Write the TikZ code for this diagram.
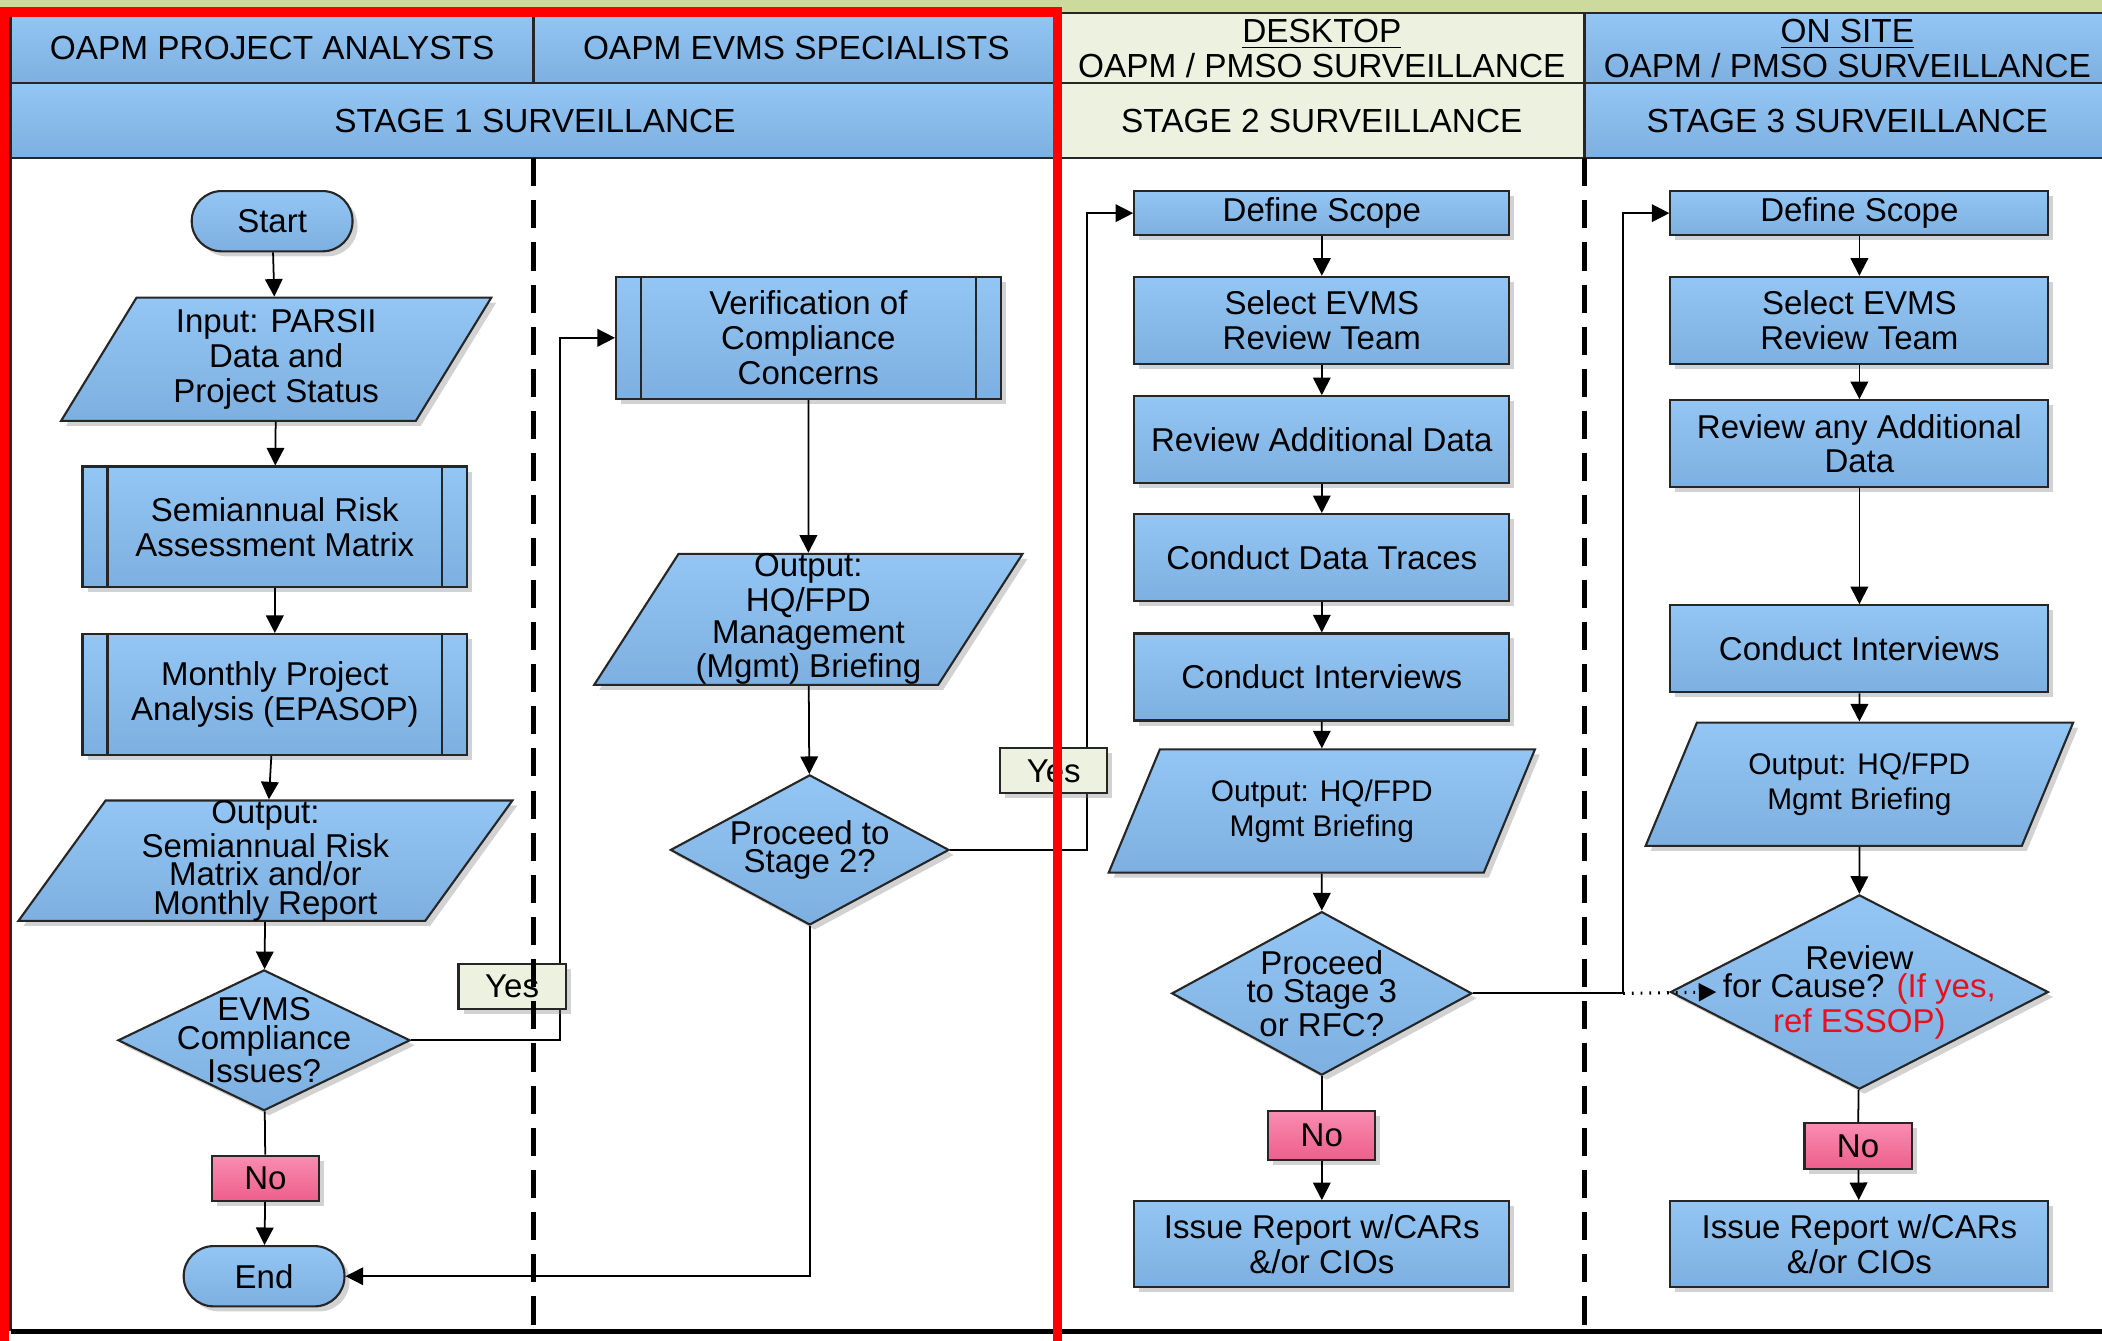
\documentclass[tikz,border=0pt]{standalone}
\usepackage{fontspec}
\setmainfont{Liberation Sans}
\usetikzlibrary{shapes.geometric,arrows.meta,shadows,calc}

\definecolor{boxtop}{HTML}{93C6F4}
\definecolor{boxbot}{HTML}{7DAFE0}
\definecolor{boxline}{HTML}{262626}
\definecolor{cream}{HTML}{EDF1DF}
\definecolor{strip}{HTML}{CCDA9D}
\definecolor{pinktop}{HTML}{F98DB2}
\definecolor{pinkbot}{HTML}{EE5E8C}
\definecolor{causered}{HTML}{E8101A}

\tikzset{
    base/.style={draw=boxline, line width=0.6pt, top color=boxtop, bottom color=boxbot,
        align=center, inner sep=1pt, font=\fontsize{9.4}{9.9}\selectfont,
        drop shadow={shadow xshift=0.5mm, shadow yshift=-0.5mm, opacity=0.35}},
    process/.style={base, rectangle},
    subproc/.style={process, path picture={
        \draw[boxline] ([xshift=0.25cm]path picture bounding box.north west)
            -- ([xshift=0.25cm]path picture bounding box.south west);
        \draw[boxline] ([xshift=-0.25cm]path picture bounding box.north east)
            -- ([xshift=-0.25cm]path picture bounding box.south east);}},
    term/.style={base, rounded corners=0.3cm},
    io/.style={base, trapezium, trapezium left angle=60, trapezium right angle=120,
        trapezium stretches=true, inner ysep=0pt},
    decision/.style={base, diamond, inner sep=0pt},
    tight/.style={font=\fontsize{9.4}{8}\selectfont},
    small/.style={font=\fontsize{8.5}{9.9}\selectfont},
    dtext/.style={align=center, font=\fontsize{9.4}{8.2}\selectfont},
    nobox/.style={base, top color=pinktop, bottom color=pinkbot, minimum width=1.072cm},
    yesbox/.style={base, top color=cream, bottom color=cream, minimum width=1.072cm, minimum height=0.45cm},
    head/.style={draw=boxline, line width=0.6pt, top color=boxtop, bottom color=boxbot,
        align=center, inner sep=0pt, font=\fontsize{9.5}{9.9}\selectfont},
    headlight/.style={head, top color=cream, bottom color=cream},
    lane/.style={line width=1.4pt, dash pattern=on 8pt off 4pt},
    arr/.style={line width=0.5pt, -{Triangle[length=5pt,width=5pt]}},
    link/.style={line width=0.5pt}
}

\begin{document}
\begin{tikzpicture}[x=0.013406cm, y=-0.013406cm]
    \useasboundingbox (0,0) rectangle (1568,1000);
    \fill[white] (0,0) rectangle (1568,1000);
    \fill[strip] (0,0) rectangle (1568,12);

    % lane headers
    \node[head, minimum width=5.228cm, minimum height=0.697cm] (hdA) at (203,36) {OAPM PROJECT ANALYSTS};
    \node[head, minimum width=5.255cm, minimum height=0.697cm] (hdB) at (594,36) {OAPM EVMS SPECIALISTS};
    \node[headlight, minimum width=5.255cm, minimum height=0.697cm] (hdC) at (986,36) {\underline{DESKTOP}\\OAPM / PMSO SURVEILLANCE};
    \node[head, minimum width=5.255cm, minimum height=0.697cm] (hdD) at (1378,36) {\underline{ON SITE}\\OAPM / PMSO SURVEILLANCE};
    \node[head, minimum width=10.484cm, minimum height=0.751cm] (stA) at (399,90) {STAGE 1 SURVEILLANCE};
    \node[headlight, minimum width=5.255cm, minimum height=0.751cm] (stB) at (986,90) {STAGE 2 SURVEILLANCE};
    \node[head, minimum width=5.255cm, minimum height=0.751cm] (stC) at (1378,90) {STAGE 3 SURVEILLANCE};

    \draw[boxline, line width=0.8pt] (8,10) -- (8,993);
    \draw[line width=1.5pt] (8,993) -- (1568,993);

    % stage 1
    \node[term, minimum width=1.609cm, minimum height=0.603cm] (start) at (203,165) {Start};
    \node[io, minimum width=4.317cm, minimum height=1.233cm] (input) at (206,268) {Input: PARSII\\Data and\\Project Status};
    \node[subproc, minimum width=3.848cm, minimum height=1.207cm] (sra) at (205,393) {Semiannual Risk\\Assessment Matrix};
    \node[subproc, minimum width=3.848cm, minimum height=1.207cm] (mpa) at (205,518) {Monthly Project\\Analysis (EPASOP)};
    \node[io, tight, minimum width=4.947cm, minimum height=1.180cm] (outA) at (198,642) {Output:\\Semiannual Risk\\Matrix and/or\\Monthly Report};
    \node[decision, minimum width=2.923cm, minimum height=1.408cm,
        label={[dtext]center:{EVMS\\Compliance\\Issues?}}] (evms) at (197,776) {};
    \node[nobox, minimum height=0.456cm] (noA) at (198,879) {No};
    \node[term, minimum width=1.609cm, minimum height=0.603cm] (end) at (197,952) {End};

    \node[subproc, minimum width=3.848cm, minimum height=1.220cm] (verif) at (603,252) {Verification of\\Compliance\\Concerns};
    \node[io, tight, minimum width=4.290cm, minimum height=1.220cm] (outB) at (603,462) {Output:\\HQ/FPD\\Management\\(Mgmt) Briefing};
    \node[decision, minimum width=2.788cm, minimum height=1.502cm,
        label={[dtext]center:{Proceed to\\Stage 2?}}] (go2) at (604,634) {};

    % stage 2
    \node[process, minimum width=3.754cm, minimum height=0.442cm] (scopeC) at (986,159) {Define Scope};
    \node[process, minimum width=3.754cm, minimum height=0.871cm] (teamC) at (986,239) {Select EVMS\\Review Team};
    \node[process, minimum width=3.754cm, minimum height=0.871cm] (dataC) at (986,328) {Review Additional Data};
    \node[process, minimum width=3.754cm, minimum height=0.871cm] (traceC) at (986,416) {Conduct Data Traces};
    \node[process, minimum width=3.754cm, minimum height=0.871cm] (intC) at (986,505) {Conduct Interviews};
    \node[io, small, minimum width=4.290cm, minimum height=1.233cm] (outC) at (986,605) {Output: HQ/FPD\\Mgmt Briefing};
    \node[decision, minimum width=3.003cm, minimum height=1.636cm,
        label={[dtext]center:{Proceed\\to Stage 3\\or RFC?}}] (go3) at (986,741) {};
    \node[nobox, minimum height=0.496cm] (noC) at (986,847) {No};
    \node[process, minimum width=3.754cm, minimum height=0.858cm] (issueC) at (986,928) {Issue Report w/CARs\\\&/or CIOs};

    % stage 3
    \node[process, minimum width=3.781cm, minimum height=0.442cm] (scopeD) at (1387,159) {Define Scope};
    \node[process, minimum width=3.781cm, minimum height=0.871cm] (teamD) at (1387,239) {Select EVMS\\Review Team};
    \node[process, minimum width=3.781cm, minimum height=0.871cm] (dataD) at (1387,331) {Review any Additional\\Data};
    \node[process, minimum width=3.781cm, minimum height=0.871cm] (intD) at (1387,484) {Conduct Interviews};
    \node[io, small, minimum width=4.303cm, minimum height=1.233cm] (outD) at (1387,585) {Output: HQ/FPD\\Mgmt Briefing};
    \node[decision, minimum width=3.781cm, minimum height=1.944cm,
        label={[dtext]center:{Review\\for Cause? \textcolor{causered}{(If yes,}\\\textcolor{causered}{ref ESSOP)}}}] (cause) at (1387,740) {};
    \node[nobox, minimum height=0.456cm] (noD) at (1386,855) {No};
    \node[process, minimum width=3.781cm, minimum height=0.858cm] (issueD) at (1387,928) {Issue Report w/CARs\\\&/or CIOs};

    % connectors
    \foreach \a/\b in {start/input, input/sra, sra/mpa, mpa/outA, outA/evms, noA/end,
        verif/outB, outB/go2,
        scopeC/teamC, teamC/dataC, dataC/traceC, traceC/intC, intC/outC, outC/go3, noC/issueC,
        scopeD/teamD, teamD/dataD, dataD/intD, intD/outD, outD/cause, noD/issueD}
        \draw[arr] (\a) -- (\b);
    \foreach \a/\b in {evms/noA, go3/noC, cause/noD}
        \draw[link] (\a) -- (\b);

    \draw[arr] (evms.east) -- ++(111,0) |- (verif.west);
    \draw[arr] (go2.east) -- ++(102,0) |- (scopeC.west);
    \draw[arr] (go2.south) |- (end.east);
    \coordinate (split) at ($(go3.east)+(112,0)$);
    \draw[arr] (go3.east) -- (split) |- (scopeD.west);
    \draw[arr, dotted, line width=0.9pt] (split) -- ([xshift=0.47cm]cause.west);

    \node[yesbox] (yesA) at (382,736) {Yes};
    \node[yesbox] (yesB) at (786,575) {Yes};

    \foreach \x in {398,790,1182}
        \draw[lane] (\x,118) -- (\x,993);

    \draw[red, line width=2.6pt] (3,9) rectangle (789,1010);
\end{tikzpicture}
\end{document}
